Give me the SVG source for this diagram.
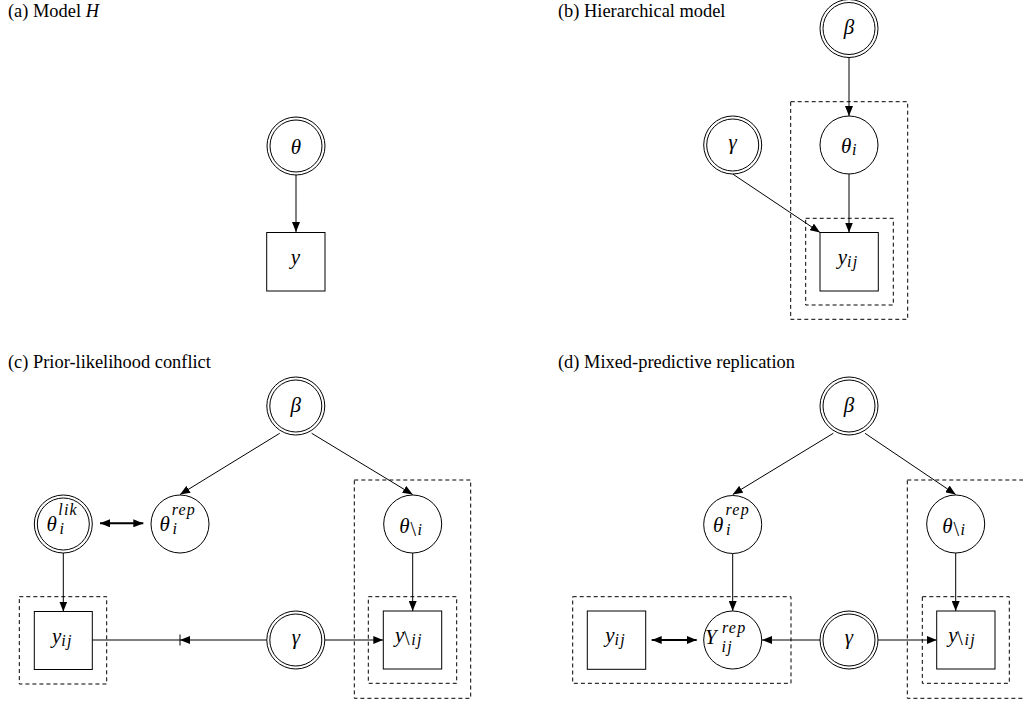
<svg xmlns="http://www.w3.org/2000/svg" width="1023" height="704" viewBox="0 0 1023 704">
<style>
.cap{font-family:'Liberation Serif','DejaVu Serif',serif;font-size:18.4px;fill:#000}
.m{font-family:'Liberation Serif','DejaVu Serif',serif;font-style:italic;font-size:21px;fill:#000}
.s{font-size:16px;letter-spacing:1.2px}
.bs{font-style:normal;font-size:20px}
.nd{fill:#fff;stroke:#000;stroke-width:1}
.pl{fill:none;stroke:#000;stroke-width:1;stroke-dasharray:4 3}
.e{fill:none;stroke:#000;stroke-width:1}
.e2{fill:none;stroke:#000;stroke-width:2}
</style>
<defs>
<marker id="ah" viewBox="0 0 10 8" refX="10" refY="4" markerWidth="10" markerHeight="8" markerUnits="userSpaceOnUse" orient="auto-start-reverse"><path d="M0,0 L10,4 L0,8 Z" fill="#000"/></marker>
<g id="dbl"><circle r="29" class="nd"/><circle r="26" class="nd"/></g>
</defs>
<rect width="1023" height="704" fill="#fff"/>

<g id="captions">
<text class="cap" x="8" y="17">(a) Model <tspan font-style="italic">H</tspan></text>
<text class="cap" x="558" y="17">(b) Hierarchical model</text>
<text class="cap" x="8" y="368">(c) Prior-likelihood conflict</text>
<text class="cap" x="558" y="368">(d) Mixed-predictive replication</text>
</g>

<g id="plates">
<rect class="pl" x="790.7" y="101.7" width="117" height="217.6"/>
<rect class="pl" x="805.7" y="218.3" width="87.6" height="86.7"/>
<rect class="pl" x="19.3" y="596.7" width="87.4" height="87.3"/>
<rect class="pl" x="354.3" y="480" width="116.4" height="218.3"/>
<rect class="pl" x="368.3" y="596.7" width="88.4" height="86.6"/>
<rect class="pl" x="572.7" y="596.7" width="218.3" height="86.6"/>
<rect class="pl" x="907.3" y="480" width="116.4" height="218.3"/>
<rect class="pl" x="922.3" y="596.7" width="87" height="86.6"/>
</g>

<g id="connectors">
<line class="e" x1="296" y1="175" x2="296" y2="232" marker-end="url(#ah)"/>
<line class="e" x1="849" y1="57.5" x2="849" y2="116" marker-end="url(#ah)"/>
<line class="e" x1="849" y1="174" x2="849" y2="232.5" marker-end="url(#ah)"/>
<line class="e" x1="732.7" y1="174" x2="820" y2="232.5" marker-end="url(#ah)"/>

<line class="e" x1="279.7" y1="433.3" x2="180" y2="494.5" marker-end="url(#ah)"/>
<line class="e" x1="311.7" y1="433.3" x2="412.7" y2="494.5" marker-end="url(#ah)"/>
<line class="e2" x1="100" y1="523.3" x2="143.3" y2="523.3" marker-start="url(#ah)" marker-end="url(#ah)"/>
<line class="e" x1="63.3" y1="552.5" x2="63.3" y2="611.5" marker-end="url(#ah)"/>
<line class="e" x1="412.7" y1="553" x2="412.7" y2="611" marker-end="url(#ah)"/>
<line class="e" x1="325" y1="640" x2="383.3" y2="640" marker-end="url(#ah)"/>
<line class="e" x1="266.7" y1="640" x2="92.3" y2="640"/>
<path d="M180,640 L190,636 L190,644 Z" fill="#000"/>
<line class="e" x1="180" y1="634.5" x2="180" y2="645.5"/>

<line class="e" x1="833.3" y1="433.3" x2="732.7" y2="494.5" marker-end="url(#ah)"/>
<line class="e" x1="865" y1="433.3" x2="955.7" y2="494.5" marker-end="url(#ah)"/>
<line class="e" x1="732.7" y1="553" x2="732.7" y2="611" marker-end="url(#ah)"/>
<line class="e2" x1="651.7" y1="640" x2="696.7" y2="640" marker-start="url(#ah)" marker-end="url(#ah)"/>
<line class="e" x1="820" y1="640" x2="762" y2="640" marker-end="url(#ah)"/>
<line class="e" x1="878" y1="640" x2="936.7" y2="640" marker-end="url(#ah)"/>
<line class="e" x1="955.7" y1="553" x2="955.7" y2="611" marker-end="url(#ah)"/>
</g>

<g id="a-theta"><use href="#dbl" x="296" y="146"/><text class="m" x="296" y="154" text-anchor="middle">θ</text></g>
<g id="a-y"><rect class="nd" x="266.7" y="232.5" width="58.3" height="58.5"/><text class="m" x="295.5" y="264" text-anchor="middle">y</text></g>

<g id="b-beta"><use href="#dbl" x="849" y="28.5"/><text class="m" x="849" y="34" text-anchor="middle">β</text></g>
<g id="b-gamma"><use href="#dbl" x="732.7" y="145"/><text class="m" x="732.7" y="149" text-anchor="middle">γ</text></g>
<g id="b-theta"><circle class="nd" cx="849" cy="145" r="29"/><text class="m"><tspan x="841" y="153">θ</tspan><tspan class="s" x="852" y="155">i</tspan></text></g>
<g id="b-y"><rect class="nd" x="820" y="232.5" width="58.3" height="58.5"/><text class="m"><tspan x="837.7" y="264">y</tspan><tspan class="s" x="847" y="267">ij</tspan></text></g>

<g id="c-beta"><use href="#dbl" x="295.8" y="406"/><text class="m" x="295.8" y="411.5" text-anchor="middle">β</text></g>
<g id="c-thetalik"><use href="#dbl" x="63.3" y="524"/><text class="m"><tspan x="46.5" y="531">θ</tspan><tspan class="s" x="58.3" y="514.5">lik</tspan><tspan class="s" x="59.5" y="534">i</tspan></text></g>
<g id="c-thetarep"><circle class="nd" cx="180" cy="524" r="29"/><text class="m"><tspan x="159.5" y="531">θ</tspan><tspan class="s" x="171.7" y="514.5">rep</tspan><tspan class="s" x="172.5" y="534">i</tspan></text></g>
<g id="c-thetami"><circle class="nd" cx="412.7" cy="524" r="29"/><text class="m"><tspan x="399.3" y="533">θ</tspan><tspan class="bs" x="410.5" y="536">\</tspan><tspan class="s" x="417.5" y="535">i</tspan></text></g>
<g id="c-yij"><rect class="nd" x="34.3" y="611.5" width="58" height="58"/><text class="m"><tspan x="52" y="642.5">y</tspan><tspan class="s" x="61.3" y="645.5">ij</tspan></text></g>
<g id="c-gamma"><use href="#dbl" x="295.8" y="640"/><text class="m" x="295.8" y="644" text-anchor="middle">γ</text></g>
<g id="c-ymij"><rect class="nd" x="383.3" y="611" width="58.4" height="58"/><text class="m"><tspan x="395" y="642">y</tspan><tspan class="bs" x="404" y="645">\</tspan><tspan class="s" x="411.3" y="645">ij</tspan></text></g>

<g id="d-beta"><use href="#dbl" x="849" y="406"/><text class="m" x="849" y="411.5" text-anchor="middle">β</text></g>
<g id="d-thetarep"><circle class="nd" cx="732.7" cy="524.5" r="29"/><text class="m"><tspan x="713" y="531.5">θ</tspan><tspan class="s" x="725.5" y="515">rep</tspan><tspan class="s" x="726" y="534.5">i</tspan></text></g>
<g id="d-thetami"><circle class="nd" cx="955.7" cy="524" r="29"/><text class="m"><tspan x="942.3" y="533">θ</tspan><tspan class="bs" x="953.5" y="536">\</tspan><tspan class="s" x="960.5" y="535">i</tspan></text></g>
<g id="d-yij"><rect class="nd" x="587.3" y="611" width="58.4" height="58.3"/><text class="m"><tspan x="605.2" y="642">y</tspan><tspan class="s" x="614.5" y="645">ij</tspan></text></g>
<g id="d-Yrep"><circle class="nd" cx="732.7" cy="640" r="29"/><text class="m"><tspan x="705" y="644">Y</tspan><tspan class="s" x="722" y="632.5">rep</tspan><tspan class="s" x="721.5" y="651.5">ij</tspan></text></g>
<g id="d-gamma"><use href="#dbl" x="849" y="640"/><text class="m" x="849" y="644" text-anchor="middle">γ</text></g>
<g id="d-ymij"><rect class="nd" x="936.7" y="611" width="58.3" height="58"/><text class="m"><tspan x="948.3" y="642">y</tspan><tspan class="bs" x="957.3" y="645">\</tspan><tspan class="s" x="964.6" y="645">ij</tspan></text></g>
</svg>
